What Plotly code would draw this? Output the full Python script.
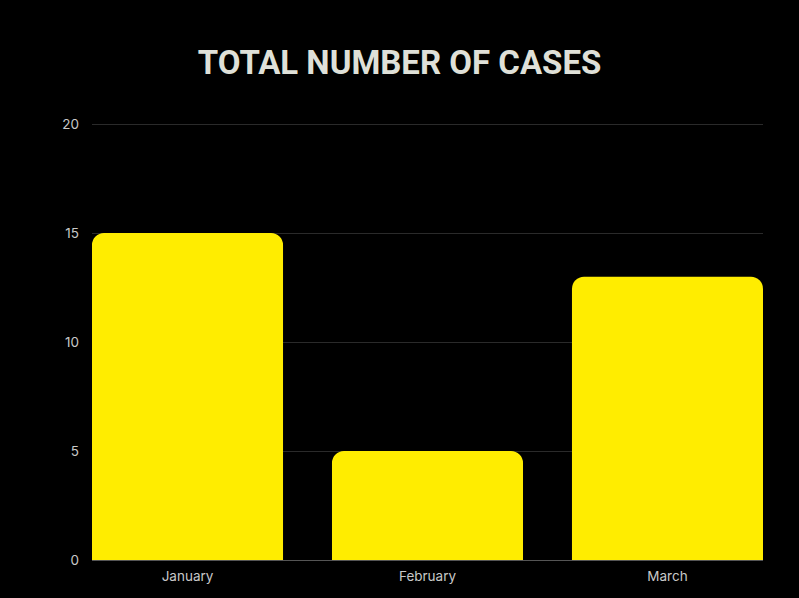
import plotly.graph_objects as go

months = ["January", "February", "March"]
cases = [15, 5, 13]
y_ticks = [0, 5, 10, 15, 20]

fig = go.Figure()
fig.add_trace(go.Bar(
    x=[0, 1, 2],
    y=cases,
    width=0.796,
    marker=dict(color="#ffed00", line=dict(width=0)),
    hoverinfo="skip",
))

fig.update_layout(
    width=799, height=598,
    paper_bgcolor="#000000",
    plot_bgcolor="#000000",
    margin=dict(l=92, r=36, t=123, b=38),
    barcornerradius=12,
    showlegend=False,
    title=dict(
        text="TOTAL NUMBER OF CASES",
        x=0.5, xanchor="center",
        y=0.895, yanchor="middle",
        font=dict(family="Roboto, sans-serif",
                  size=33, color="#dfe0d8", weight="bold"),
    ),
    font=dict(family="Inter, Roboto, sans-serif", size=13, color="#c8c8c8"),
)

fig.update_xaxes(
    range=[-0.398, 2.398],
    tickmode="array",
    tickvals=[0, 1, 2],
    ticktext=months,
    showgrid=False,
    zeroline=False,
    showline=True,
    linecolor="#555555",
    linewidth=1,
    ticks="",
    ticklabelstandoff=4,
    tickfont=dict(size=13.5, color="#c8c8c8"),
)
fig.update_yaxes(
    range=[0, 20.05],
    tickmode="array",
    tickvals=y_ticks,
    showgrid=True,
    gridcolor="#2a2a2a",
    gridwidth=1,
    zeroline=False,
    ticks="",
    ticklabelstandoff=12,
    tickfont=dict(size=13.5, color="#c8c8c8"),
)

fig.write_html("out.html")
